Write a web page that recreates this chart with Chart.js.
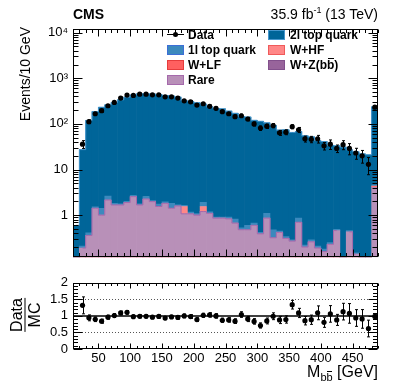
<!DOCTYPE html>
<html>
<head>
<meta charset="utf-8">
<script src="https://cdn.jsdelivr.net/npm/chart.js@4.4.1/dist/chart.umd.min.js"></script>
<style>
  body { margin: 0; background: #fff; }
  #wrap { position: relative; width: 407px; height: 391px; font-family: "Liberation Sans", Arial, sans-serif; color: #000; }
  canvas { position: absolute; left: 0; }
  .t { position: absolute; white-space: nowrap; line-height: 1; }
  .cms { left: 73px; top: 7px; font-size: 14px; font-weight: bold; }
  .lumi { right: 29px; top: 7px; font-size: 14px; }
  .lumi sup { font-size: 9px; vertical-align: 6px; line-height: 0; }
  .ytitle { left: 18px; top: 147px; width: 120px; text-align: right; font-size: 14px; transform-origin: 0 0; transform: rotate(-90deg); }
  .frac { position: absolute; left: 25px; top: 315px; transform: translate(-50%, -50%) rotate(-90deg); font-size: 16px; line-height: 15px; text-align: center; display: flex; flex-direction: column; }
  .frac .bar { height: 1px; background: #000; margin: 1px 0; }
  .xtitle { right: 29px; top: 364px; font-size: 16px; }
  .xtitle sub { font-size: 11px; vertical-align: -4px; line-height: 0; }
  .ob { position: relative; }
  .ob::after { content: ''; position: absolute; left: 0.5px; right: 0.5px; top: 0; border-top: 1px solid #000; }
  .leg { font-size: 12px; font-weight: bold; }
  .sw { position: absolute; width: 17px; height: 10px; box-sizing: border-box; border: 1px solid; }
</style>
</head>
<body>
<div id="wrap">
  <canvas id="main" width="407" height="270" style="top:0"></canvas>
  <canvas id="ratio" width="407" height="121" style="top:270px"></canvas>

  <div class="t cms">CMS</div>
  <div class="t lumi">35.9 fb<sup>-1</sup> (13 TeV)</div>
  <div class="t ytitle">Events/10 GeV</div>
  <div class="frac"><div>Data</div><div class="bar"></div><div>MC</div></div>
  <div class="t xtitle">M<sub>b<span class="ob">b</span></sub> [GeV]</div>

  <!-- legend -->
  <div style="position:absolute;left:167px;top:34px;width:17px;height:1px;background:#000"></div>
  <div style="position:absolute;left:173px;top:32px;width:5px;height:5px;border-radius:50%;background:#000"></div>
  <div class="t leg" style="left:188px;top:28.5px">Data</div>
  <div class="sw" id="sw2l" style="left:268px;top:29.5px"></div>
  <div class="t leg" style="left:290px;top:28.5px">2l top quark</div>
  <div class="sw" id="sw1l" style="left:167px;top:44.7px"></div>
  <div class="t leg" style="left:188px;top:43.7px">1l top quark</div>
  <div class="sw" id="swhf" style="left:268px;top:44.7px"></div>
  <div class="t leg" style="left:290px;top:43.7px">W+HF</div>
  <div class="sw" id="swlf" style="left:167px;top:59.9px"></div>
  <div class="t leg" style="left:188px;top:58.9px">W+LF</div>
  <div class="sw" id="swwz" style="left:268px;top:59.9px"></div>
  <div class="t leg" style="left:290px;top:58.9px">W+Z(b<span class="ob">b</span>)</div>
  <div class="sw" id="swrare" style="left:167px;top:75.1px"></div>
  <div class="t leg" style="left:188px;top:74.1px">Rare</div>
</div>

<script>
// bin centres (GeV), 10 GeV bins from 10 to 490
const binCenters = [15, 25, 35, 45, 55, 65, 75, 85, 95, 105, 115, 125, 135, 145, 155, 165, 175, 185, 195, 205,
  215, 225, 235, 245, 255, 265, 275, 285, 295, 305, 315, 325, 335, 345, 355, 365, 375, 385, 395, 405,
  415, 425, 435, 445, 455, 465, 475, 485];

// stacked backgrounds (events / bin)
const rare = [0, 0.19, 0.36, 1.42, 1.0, 2.15, 1.67, 1.67, 1.89, 2.55, 1.67, 2.26, 1.98, 1.55, 1.82, 1.42, 1.59, 1.07, 1.07, 1.0,
  1.2, 1.1, 0.86, 0.86, 0.83, 0.67, 0.48, 0.48, 0.6, 0.39, 0.86, 0.32, 0.42, 0.31, 0.27, 0.70, 0.2, 0.26, 0.19, 0.16,
  0.23, 0.46, 0, 0.43, 0.14, 0, 0, 4.0];
const wzbb = [0, 0, 0, 0, 0, 0, 0, 0, 0, 0, 0, 0, 0, 0, 0, 0, 0, 0, 0, 0,
  0, 0, 0, 0, 0, 0, 0, 0, 0, 0, 0, 0, 0, 0, 0, 0, 0, 0, 0, 0,
  0, 0, 0, 0, 0, 0, 0, 0.1];
const wlf = [0, 0, 0, 0, 0, 0, 0, 0, 0, 0, 0, 0, 0, 0, 0, 0, 0, 0, 0, 0,
  0, 0, 0, 0, 0, 0, 0, 0, 0, 0, 0, 0, 0, 0, 0, 0, 0, 0, 0, 0,
  0, 0, 0, 0, 0, 0, 0, 0.1];
const whf = [0, 0, 0, 0, 0, 0, 0, 0, 0, 0, 0, 0, 0, 0, 0, 0, 0, 0.48, 0, 0,
  0.35, 0, 0, 0, 0, 0, 0, 0, 0, 0, 0, 0, 0, 0, 0, 0, 0, 0, 0, 0,
  0, 0, 0, 0, 0, 0, 0, 0.15];
const top1l = [0, 0.02, 0.05, 0.1, 0.42, 0.48, 0.15, 0.1, 0.1, 0.15, 0.1, 0.3, 0.1, 0.2, 0.15, 0.4, 0.1, 0.1, 0.1, 0.08,
  0.35, 0.08, 0.05, 0.05, 0.08, 0.15, 0.05, 0.12, 0.07, 0.03, 0.24, 0.16, 0.03, 0.03, 0.02, 0.16, 0.02, 0.03, 0.02, 0.02,
  0.02, 0.03, 0, 0.03, 0.01, 0, 0, 0.3];
const top2l = [0.6, 27.1, 118.6, 184.5, 230.6, 257.4, 291.2, 335.2, 383, 427.3, 453.2, 452.4, 447.9, 438.3, 418, 403.2, 383.3, 319.4, 309.8, 289.9,
  269.1, 234.8, 218.1, 212.1, 189.1, 170.2, 144.5, 140.4, 119.3, 113.6, 103.9, 92.5, 72.5, 73.7, 64.7, 67.1, 54.8, 51.7, 42.8, 40.8,
  33.7, 32.5, 31, 26.5, 24.4, 22, 21, 231.4];

// observed data and its uncertainty
const dataCounts = [null, 36, 112, 167, 195, 250, 296, 367, 427, 420, 449, 449, 433, 433, 392, 392, 367, 321, 305, 259,
  276, 243, 219, 185, 167, 144, 151, 128, 100, 81, 89, 92, 64, 66, 87, 74, 47, 46, 47, 33,
  36, 29, 35, 29, 23, 20, 13, 232];
const dataErr = [null, 7, 10.6, 12.9, 14, 15.8, 17.2, 19.2, 20.7, 20.5, 21.2, 21.2, 20.8, 20.8, 19.8, 19.8, 19.2, 17.9, 17.5, 16.1,
  16.6, 15.6, 14.8, 13.6, 12.9, 12, 12.3, 11.3, 10, 9, 9.4, 9.6, 8, 8.1, 8.5, 9.5, 7, 7.3, 9, 6.2,
  8.5, 5.5, 7.8, 8, 6.2, 6.2, 5.3, 15.2];

// axis ticks
const mainYTicks = [1, 10, 100, 1000, 10000];
const mainYLabels = ['1', '10', '10\u00B2', '10\u00B3', '10\u2074'];
const xTicks = [50, 100, 150, 200, 250, 300, 350, 400, 450];
const ratioYTicks = [0, 0.5, 1, 1.5, 2];
const ratioYLabels = ['0', '0.5', '1', '1.5', '2'];

const colors = {
  top2l: 'rgb(0,101,153)', top2lLine: 'rgb(70,150,205)',
  top1l: 'rgb(60,137,189)', top1lLine: 'rgb(60,110,215)',
  whf: 'rgb(255,135,135)', whfLine: 'rgb(240,90,90)',
  wlf: 'rgb(255,96,96)', wlfLine: 'rgb(230,60,60)',
  wzbb: 'rgb(152,100,155)', wzbbLine: 'rgb(130,80,140)',
  rare: 'rgb(184,144,184)', rareLine: 'rgb(165,105,172)'
};

[['sw2l', 'top2l'], ['sw1l', 'top1l'], ['swhf', 'whf'], ['swlf', 'wlf'], ['swwz', 'wzbb'], ['swrare', 'rare']].forEach(([id, k]) => {
  const el = document.getElementById(id);
  el.style.background = colors[k];
  el.style.borderColor = colors[k + 'Line'];
});

const xy = arr => binCenters.map((c, i) => ({ x: c, y: arr[i] }));
const dataIdx = binCenters.map((c, i) => i).filter(i => dataCounts[i] != null);
const mcTotal = binCenters.map((c, i) => rare[i] + wzbb[i] + wlf[i] + whf[i] + top1l[i] + top2l[i]);

// frame with inward ROOT-style ticks on all four sides
const framePlugin = {
  id: 'frame',
  afterDraw(chart, args, opts) {
    const { ctx, chartArea: a, scales: { x, y } } = chart;
    const L = Math.round(a.left) + 0.5, R = Math.round(a.right) - 0.5;
    const T = Math.round(a.top) + 0.5, B = Math.round(a.bottom) - 0.5;
    ctx.save();
    ctx.strokeStyle = '#000';
    ctx.lineWidth = 1;
    ctx.beginPath();
    for (let v = 10; v <= 490; v += 10) {
      const px = Math.round(x.getPixelForValue(v)) + 0.5;
      const len = v % 50 === 0 ? opts.xMajor : opts.xMinor;
      ctx.moveTo(px, B); ctx.lineTo(px, B - len);
      ctx.moveTo(px, T); ctx.lineTo(px, T + len);
    }
    opts.yTicks().forEach(([v, major]) => {
      if (v < y.min || v > y.max) return;
      const py = Math.round(y.getPixelForValue(v)) + 0.5;
      const len = major ? opts.yMajor : opts.yMinor;
      ctx.moveTo(L, py); ctx.lineTo(L + len, py);
      ctx.moveTo(R, py); ctx.lineTo(R - len, py);
    });
    ctx.stroke();
    ctx.strokeRect(L, T, R - L, B - T);
    ctx.restore();
  }
};

const errorBars = {
  id: 'errorBars',
  afterDatasetsDraw(chart) {
    const { ctx, scales: { x, y } } = chart;
    chart.data.datasets.forEach(ds => {
      if (!ds.errors) return;
      ctx.save();
      ctx.strokeStyle = '#000';
      ctx.lineWidth = 1;
      ctx.beginPath();
      ds.data.forEach((p, j) => {
        const e = ds.errors[j];
        const px = Math.round(x.getPixelForValue(p.x)) + 0.5;
        const lo = y.getPixelForValue(Math.max(p.y - e, y.min));
        const hi = y.getPixelForValue(p.y + e);
        ctx.moveTo(px, lo); ctx.lineTo(px, hi);
        ctx.moveTo(px - 1.5, lo); ctx.lineTo(px + 1.5, lo);
        ctx.moveTo(px - 1.5, hi); ctx.lineTo(px + 1.5, hi);
      });
      ctx.stroke();
      ctx.restore();
    });
  }
};

const refLines = {
  id: 'refLines',
  beforeDatasetsDraw(chart) {
    const { ctx, chartArea: a, scales: { y } } = chart;
    ctx.save();
    ctx.strokeStyle = '#555';
    ctx.setLineDash([1, 2]);
    ctx.lineWidth = 1;
    [0.5, 1.5].forEach(v => {
      const py = Math.round(y.getPixelForValue(v)) + 0.5;
      ctx.beginPath(); ctx.moveTo(a.left, py); ctx.lineTo(a.right, py); ctx.stroke();
    });
    ctx.setLineDash([]);
    ctx.strokeStyle = '#000';
    ctx.lineWidth = 1.5;
    const p1 = y.getPixelForValue(1);
    ctx.beginPath(); ctx.moveTo(a.left, p1); ctx.lineTo(a.right, p1); ctx.stroke();
    ctx.restore();
  }
};

const barDs = (label, arr, key) => ({
  label, data: xy(arr),
  backgroundColor: colors[key], borderWidth: 0,
  barPercentage: 1, categoryPercentage: 1
});

// outline of a stacked boundary, drawn as histogram steps
const stepDs = (label, arr, color, stack) => ({
  type: 'line', label, stack, order: -0.5,
  data: xy(arr), stepped: 'middle', borderColor: color, borderWidth: 1,
  pointRadius: 0, fill: false
});

const font13 = { family: '"Liberation Sans", Arial, sans-serif', size: 13 };

new Chart(document.getElementById('main'), {
  type: 'bar',
  data: {
    datasets: [
      barDs('Rare', rare, 'rare'),
      barDs('W+Z(bb)', wzbb, 'wzbb'),
      barDs('W+LF', wlf, 'wlf'),
      barDs('W+HF', whf, 'whf'),
      barDs('1l top quark', top1l, 'top1l'),
      barDs('2l top quark', top2l, 'top2l'),
      stepDs('Rare outline', rare, colors.rareLine, 'outlineRare'),
      stepDs('MC outline', mcTotal, colors.top2lLine, 'outlineTotal'),
      {
        type: 'scatter', label: 'Data', stack: 'data', order: -1,
        data: dataIdx.map(i => ({ x: binCenters[i], y: dataCounts[i] })),
        errors: dataIdx.map(i => dataErr[i]),
        pointRadius: 2.6, pointBackgroundColor: '#000', pointBorderColor: '#000', pointBorderWidth: 0
      }
    ]
  },
  options: {
    responsive: false, animation: false, devicePixelRatio: 1,
    layout: { padding: { top: 29, right: 29, left: 0, bottom: 0 } },
    plugins: {
      legend: { display: false }, tooltip: { enabled: false },
      frame: {
        xMajor: 7, xMinor: 3.5, yMajor: 9, yMinor: 5,
        yTicks: () => {
          const t = [];
          for (let e = -1; e <= 4; e++) for (let m = 1; m <= 9; m++) t.push([m * Math.pow(10, e), m === 1]);
          return t;
        }
      }
    },
    scales: {
      x: {
        type: 'linear', min: 10, max: 490, offset: false, stacked: true,
        grid: { display: false, drawTicks: false }, border: { display: false },
        ticks: { display: false },
        afterBuildTicks: s => { s.ticks = xTicks.map(v => ({ value: v })); },
        afterFit: s => { s.height = 11; }
      },
      y: {
        type: 'logarithmic', min: 0.12, max: 12000, stacked: true,
        grid: { display: false, drawTicks: false }, border: { display: false },
        ticks: { color: '#000', font: font13, padding: 5, autoSkip: false, callback: v => mainYLabels[mainYTicks.indexOf(v)] },
        afterBuildTicks: s => { s.ticks = mainYTicks.map(v => ({ value: v })); },
        afterFit: s => { s.width = 73; }
      }
    }
  },
  plugins: [framePlugin, errorBars]
});

new Chart(document.getElementById('ratio'), {
  type: 'scatter',
  data: {
    datasets: [{
      label: 'Data/MC',
      data: dataIdx.map(i => ({ x: binCenters[i], y: dataCounts[i] / mcTotal[i] })),
      errors: dataIdx.map(i => dataErr[i] / mcTotal[i]),
      pointRadius: 2.6, pointBackgroundColor: '#000', pointBorderColor: '#000', pointBorderWidth: 0
    }]
  },
  options: {
    responsive: false, animation: false, devicePixelRatio: 1,
    layout: { padding: { top: 12, right: 29, left: 0, bottom: 0 } },
    plugins: {
      legend: { display: false }, tooltip: { enabled: false },
      frame: {
        xMajor: 5, xMinor: 2.5, yMajor: 9, yMinor: 4.5,
        yTicks: () => {
          const t = [];
          for (let k = 0; k <= 20; k++) t.push([k / 10, k % 5 === 0]);
          return t;
        }
      }
    },
    scales: {
      x: {
        type: 'linear', min: 10, max: 490, offset: false,
        grid: { display: false, drawTicks: false }, border: { display: false },
        ticks: { color: '#000', font: font13, padding: 2, maxRotation: 0, autoSkip: false },
        afterBuildTicks: s => { s.ticks = xTicks.map(v => ({ value: v })); },
        afterFit: s => { s.height = 42; }
      },
      y: {
        type: 'linear', min: 0, max: 2,
        grid: { display: false, drawTicks: false }, border: { display: false },
        ticks: { color: '#000', font: font13, padding: 5, autoSkip: false, callback: v => ratioYLabels[ratioYTicks.indexOf(v)] },
        afterBuildTicks: s => { s.ticks = ratioYTicks.map(v => ({ value: v })); },
        afterFit: s => { s.width = 73; }
      }
    }
  },
  plugins: [framePlugin, errorBars, refLines]
});
</script>
</body>
</html>
